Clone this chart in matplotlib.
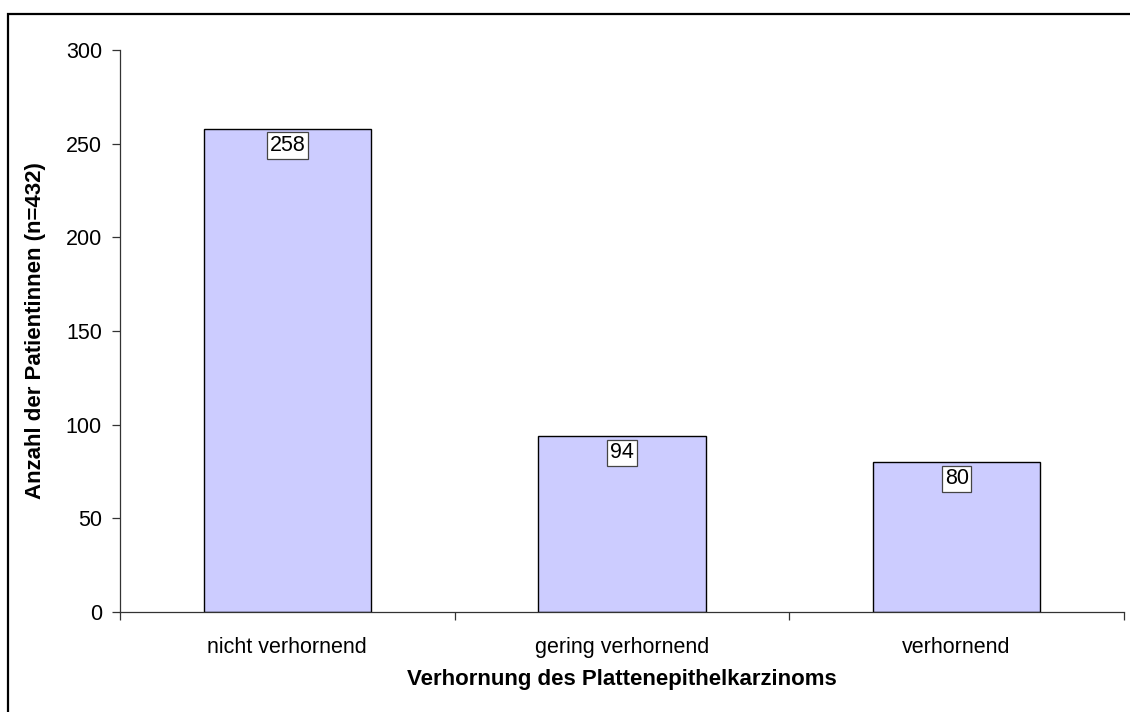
import matplotlib
matplotlib.use("Agg")
import matplotlib.pyplot as plt
from matplotlib.lines import Line2D
from matplotlib.ticker import FixedLocator, NullFormatter

categories = ["nicht verhornend", "gering verhornend", "verhornend"]
counts = [258, 94, 80]
y_ticks = [0, 50, 100, 150, 200, 250, 300]

plt.rcParams["font.family"] = ["Liberation Sans", "DejaVu Sans"]

W, H = 1130, 712
fig = plt.figure(figsize=(W / 100, H / 100), dpi=100)
ax = fig.add_axes([120 / W, 100 / H, 1004 / W, 562 / H])

x = list(range(len(categories)))
ax.bar(x, counts, width=0.5, color="#CCCCFF", edgecolor="black", linewidth=1.0, zorder=2)

for xi, v in zip(x, counts):
    ax.annotate(str(v), xy=(xi, v), xytext=(0, -4.5), textcoords="offset points",
                ha="center", va="top", fontsize=15.5,
                bbox=dict(boxstyle="square,pad=0.12", facecolor="white", edgecolor="#444444", linewidth=0.9),
                zorder=3)

ax.set_xlim(-0.5, len(categories) - 0.5)
ax.set_ylim(0, 300)
ax.set_yticks(y_ticks)
ax.tick_params(axis="y", length=6, width=0.9, pad=7, labelsize=15.5, direction="out", color="#333333")

ax.xaxis.set_major_locator(FixedLocator([i - 0.5 for i in range(len(categories) + 1)]))
ax.xaxis.set_major_formatter(NullFormatter())
ax.xaxis.set_minor_locator(FixedLocator(x))
ax.set_xticklabels(categories, minor=True)
ax.tick_params(axis="x", which="major", length=6, width=0.9, direction="out", color="#333333")
ax.tick_params(axis="x", which="minor", length=0, pad=18, labelsize=15.5)

for side in ("top", "right"):
    ax.spines[side].set_visible(False)
for side in ("left", "bottom"):
    ax.spines[side].set_linewidth(0.9)
    ax.spines[side].set_color("#333333")

ax.set_ylabel("Anzahl der Patientinnen (n=432)", fontsize=16, fontweight="bold")
ax.yaxis.set_label_coords(-74 / 1004, 0.5)
ax.set_xlabel("Verhornung des Plattenepithelkarzinoms", fontsize=16, fontweight="bold", labelpad=8)

# frame around the chart area (left and top edges)
fig.add_artist(Line2D([7.5 / W, 7.5 / W, 1.0], [0.0, 1 - 14 / H, 1 - 14 / H],
                      transform=fig.transFigure, color="black", linewidth=1.6,
                      solid_joinstyle="miter"))

fig.savefig("out.png", dpi=100, facecolor="white")
